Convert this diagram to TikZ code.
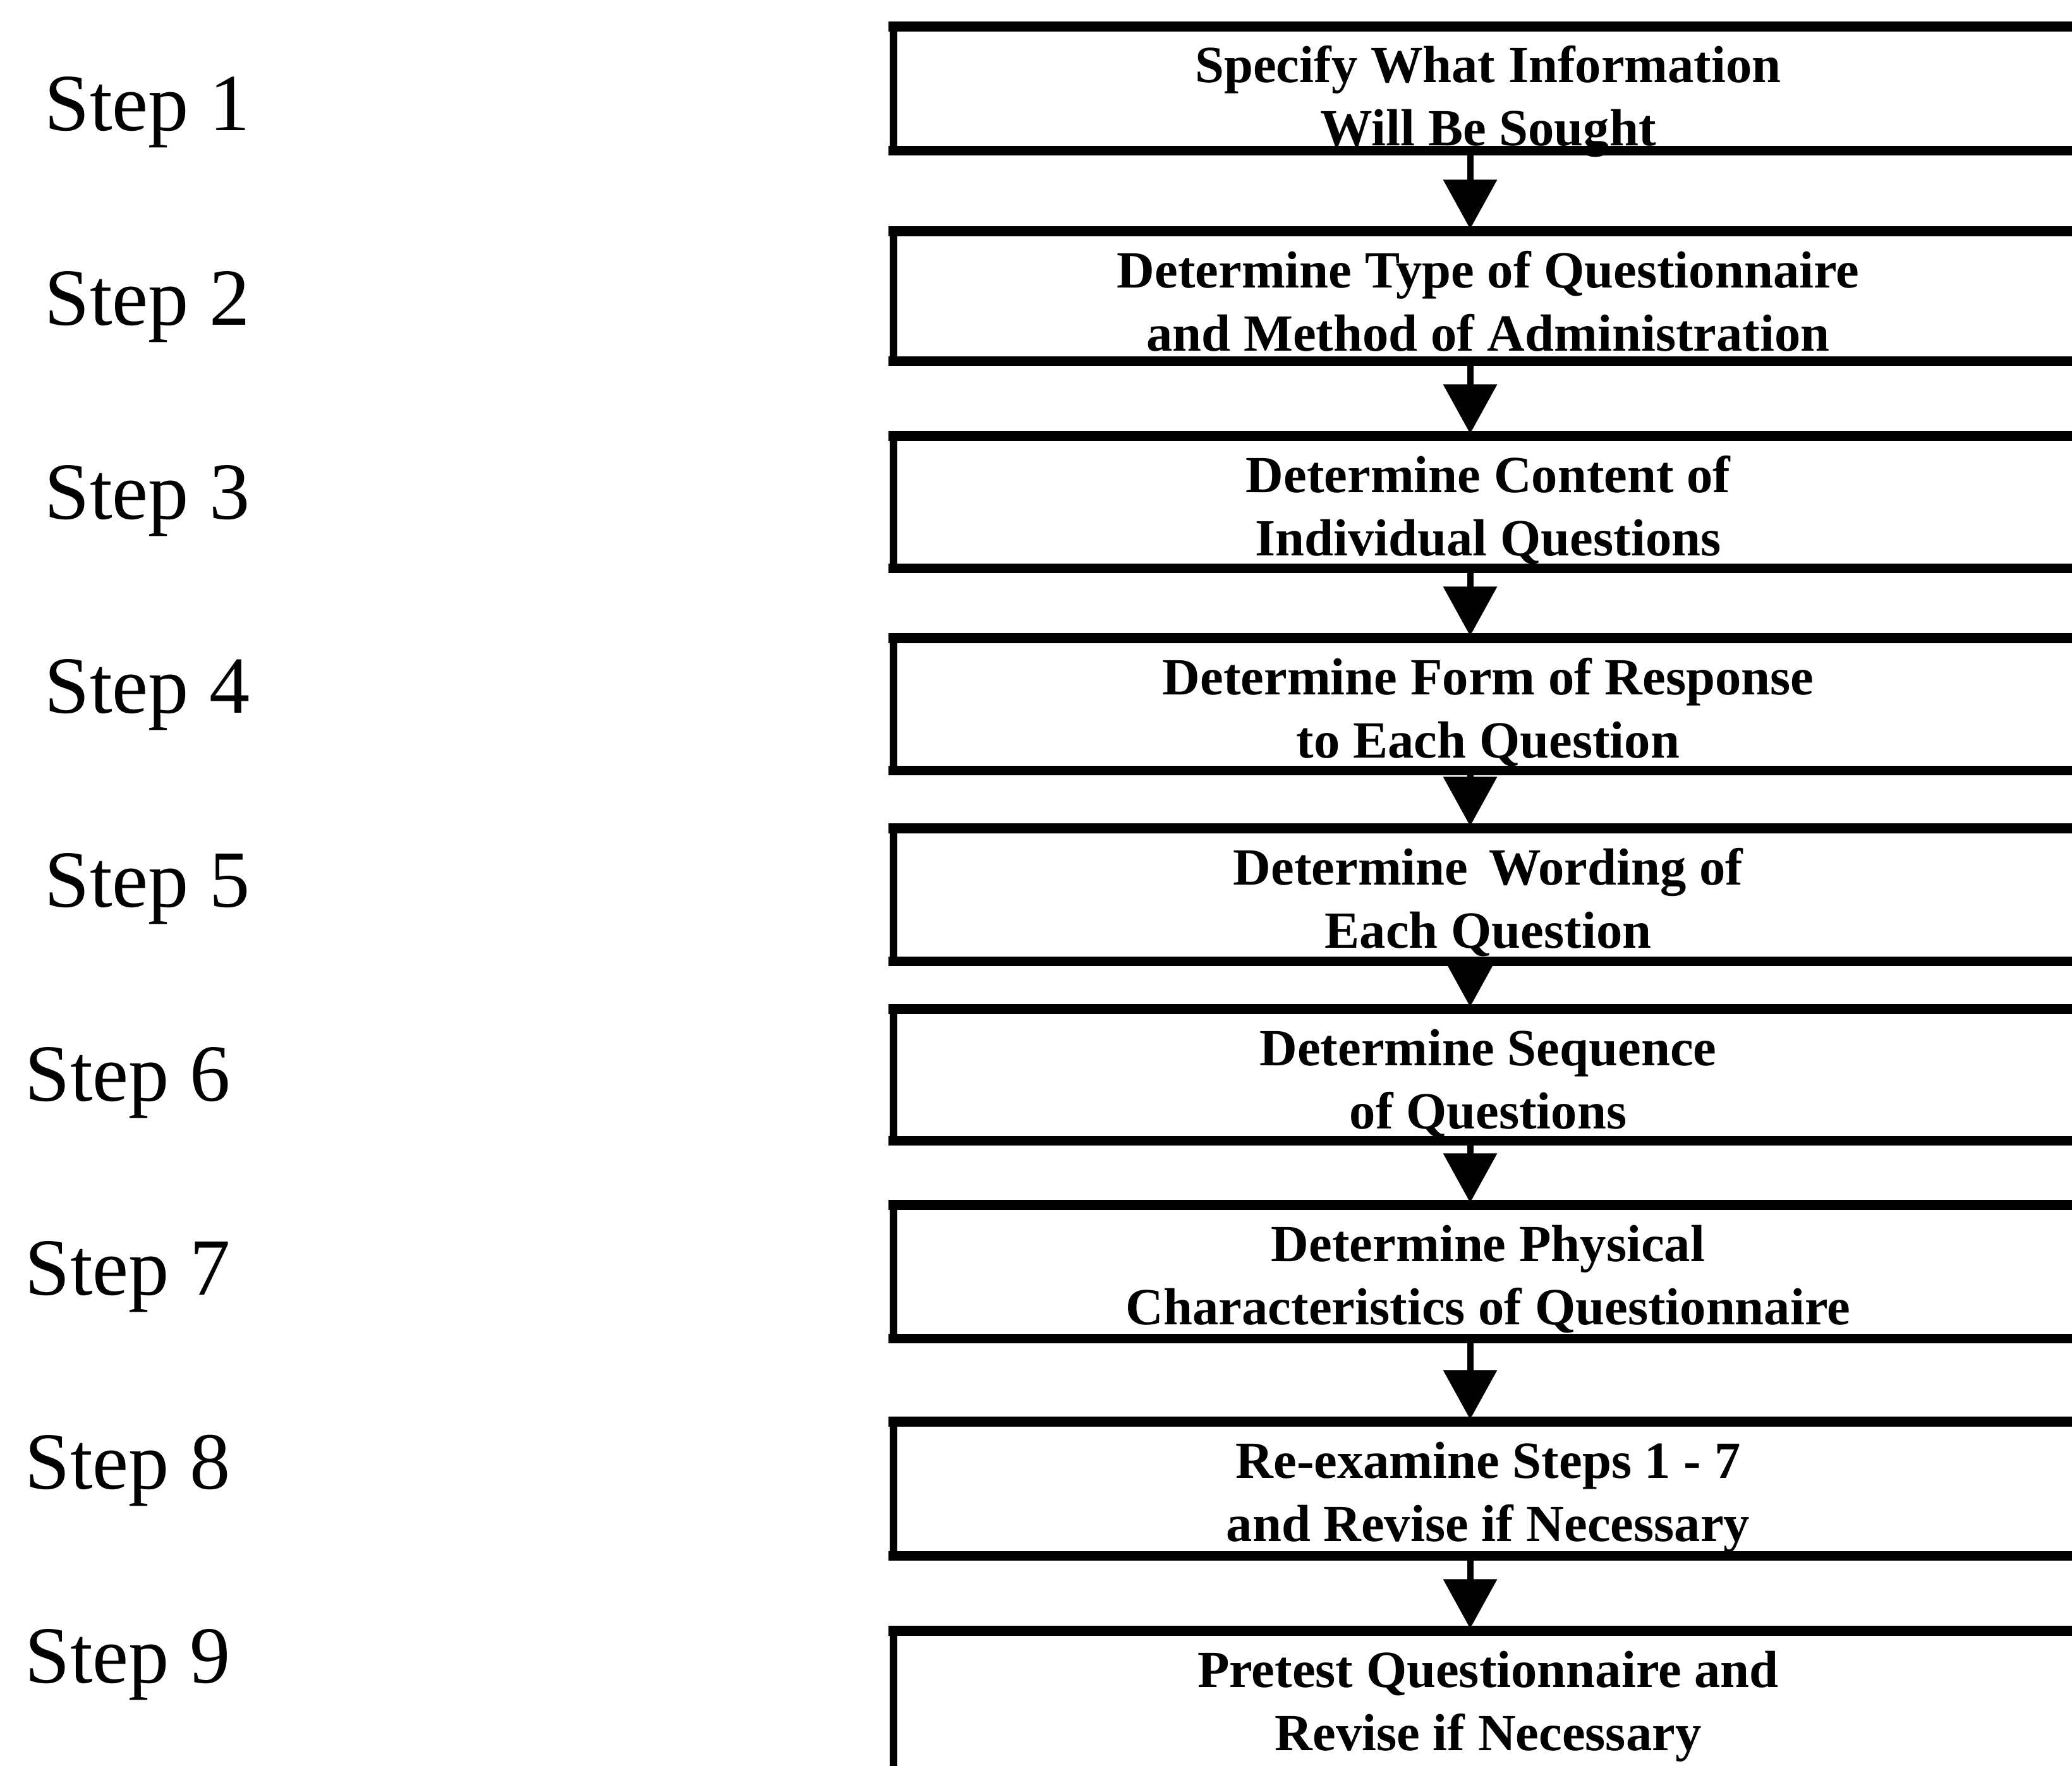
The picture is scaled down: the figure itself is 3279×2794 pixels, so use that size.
\documentclass[tikz,border=0pt]{standalone}
\usepackage{fontspec}
\setmainfont{Liberation Serif}
\usetikzlibrary{arrows.meta,calc}
\begin{document}
\begin{tikzpicture}[x=0.01cm,y=-0.01cm,
  stepbox/.style={draw=none,inner sep=0pt,outer sep=0pt,anchor=north west,minimum width=18.82cm},
  boxtext/.style={inner sep=0pt,anchor=base,font=\bfseries\fontsize{23.5}{28}\selectfont},
  steplabel/.style={inner sep=0pt,anchor=base west,font=\fontsize{36.5}{44}\selectfont},
  hthick/.style={line width=4.3pt,line cap=rect},
  vthin/.style={line width=3.4pt},
  arr/.style={line width=2.85pt,-{Triangle[width=0.83cm,length=0.78cm]},shorten >=1pt}
]
\useasboundingbox (0,0) rectangle (3279,2794);
\clip (0,0) rectangle (3279,2794);
\fill[white] (0,0) rectangle (3279,2794);

% boxes
\node[stepbox,minimum height=1.96cm] (b1) at (1414,42) {};
\node[stepbox,minimum height=2.05cm] (b2) at (1414,366) {};
\node[stepbox,minimum height=2.09cm] (b3) at (1414,690) {};
\node[stepbox,minimum height=2.09cm] (b4) at (1414,1010) {};
\node[stepbox,minimum height=2.10cm] (b5) at (1414,1311) {};
\node[stepbox,minimum height=2.08cm] (b6) at (1414,1597) {};
\node[stepbox,minimum height=2.11cm] (b7) at (1414,1907) {};
\node[stepbox,minimum height=2.12cm] (b8) at (1414,2250) {};
\node[stepbox,minimum height=3.20cm] (b9) at (1414,2581) {};

\foreach \b in {b1,b2,b3,b4,b5,b6,b7,b8,b9}{
  \draw[vthin] (\b.north west) -- (\b.south west);
  \draw[vthin] (\b.north east) -- (\b.south east);
  \draw[hthick] (\b.north west) -- (\b.north east);
  \draw[hthick] (\b.south west) -- (\b.south east);
}

% box texts
\node[boxtext] (t1a) at (2355,131) {Specify What Information};
\node[boxtext] (t1b) at (2355,231) {Will Be Sought};
\node[boxtext] (t2a) at (2355,455) {Determine Type of Questionnaire};
\node[boxtext] (t2b) at (2355,555) {and Method of Administration};
\node[boxtext] (t3a) at (2355,779) {Determine Content of};
\node[boxtext] (t3b) at (2355,879) {Individual Questions};
\node[boxtext] (t4a) at (2355,1099) {Determine Form of Response};
\node[boxtext] (t4b) at (2355,1199) {to Each Question};
\node[boxtext] (t5a) at (2355,1400) {Determine\hspace{0.4em}Wording of};
\node[boxtext] (t5b) at (2355,1500) {Each Question};
\node[boxtext] (t6a) at (2355,1686) {Determine Sequence};
\node[boxtext] (t6b) at (2355,1786) {of Questions};
\node[boxtext] (t7a) at (2355,1996) {Determine Physical};
\node[boxtext] (t7b) at (2355,2096) {Characteristics of Questionnaire};
\node[boxtext] (t8a) at (2355,2339) {Re-examine Steps 1 - 7};
\node[boxtext] (t8b) at (2355,2439) {and Revise if Necessary};
\node[boxtext] (t9a) at (2355,2670) {Pretest Questionnaire and};
\node[boxtext] (t9b) at (2355,2770) {Revise if Necessary};

% arrows
\foreach \a/\c in {b1/b2,b2/b3,b3/b4,b4/b5,b5/b6,b6/b7,b7/b8,b8/b9}{
  \draw[arr] ([xshift=-0.29cm]\a.south) -- ([xshift=-0.29cm]\c.north);
}

% step labels
\node[steplabel] (s1) at (70,207) {Step 1};
\node[steplabel] (s2) at (70,514) {Step 2};
\node[steplabel] (s3) at (70,821) {Step 3};
\node[steplabel] (s4) at (70,1128) {Step 4};
\node[steplabel] (s5) at (70,1435) {Step 5};
\node[steplabel] (s6) at (39,1742) {Step 6};
\node[steplabel] (s7) at (39,2049) {Step 7};
\node[steplabel] (s8) at (39,2356) {Step 8};
\node[steplabel] (s9) at (39,2663) {Step 9};
\end{tikzpicture}
\end{document}
